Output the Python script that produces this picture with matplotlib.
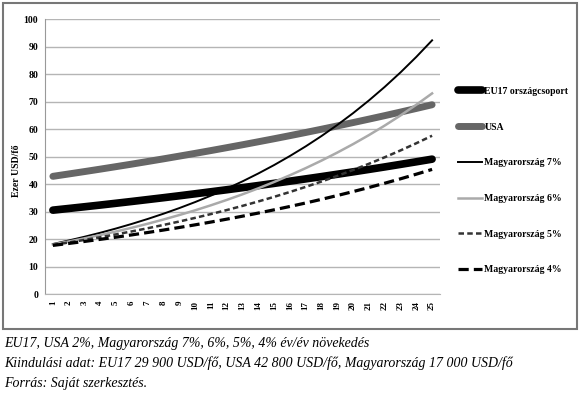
import matplotlib.pyplot as plt
from matplotlib.patches import Rectangle

years = list(range(1, 26))
eu17 = [30.50, 31.11, 31.73, 32.36, 33.01, 33.67, 34.35, 35.03, 35.73, 36.45, 37.18, 37.92, 38.68,
        39.45, 40.24, 41.05, 41.87, 42.70, 43.56, 44.43, 45.32, 46.22, 47.15, 48.09, 49.05]
usa = [42.80, 43.66, 44.53, 45.42, 46.33, 47.25, 48.20, 49.16, 50.15, 51.15, 52.17, 53.22, 54.28,
       55.37, 56.47, 57.60, 58.75, 59.93, 61.13, 62.35, 63.60, 64.87, 66.17, 67.49, 68.84]
hu7 = [18.19, 19.46, 20.83, 22.28, 23.84, 25.51, 27.30, 29.21, 31.25, 33.44, 35.78, 38.29, 40.97,
       43.84, 46.90, 50.19, 53.70, 57.46, 61.48, 65.78, 70.39, 75.32, 80.59, 86.23, 92.26]
hu6 = [18.02, 19.10, 20.25, 21.46, 22.75, 24.11, 25.56, 27.10, 28.72, 30.44, 32.27, 34.21, 36.26,
       38.44, 40.74, 43.19, 45.78, 48.52, 51.44, 54.52, 57.79, 61.26, 64.94, 68.83, 72.96]
hu5 = [17.85, 18.74, 19.68, 20.66, 21.70, 22.78, 23.92, 25.12, 26.37, 27.69, 29.08, 30.53, 32.06,
       33.66, 35.34, 37.11, 38.96, 40.91, 42.96, 45.11, 47.36, 49.73, 52.22, 54.83, 57.57]
hu4 = [17.68, 18.39, 19.12, 19.89, 20.68, 21.51, 22.37, 23.27, 24.20, 25.16, 26.17, 27.22, 28.31,
       29.44, 30.62, 31.84, 33.11, 34.44, 35.82, 37.25, 38.74, 40.29, 41.90, 43.58, 45.32]

plt.rcParams['font.family'] = ['Liberation Serif', 'DejaVu Serif']

fig = plt.figure(figsize=(5.8, 3.97), dpi=100)
ax = fig.add_axes([0.0776, 0.2594, 0.681, 0.6926])

ax.plot(years, eu17, color='black', lw=5.5, solid_capstyle='round', label='EU17 országcsoport')
ax.plot(years, usa, color='#666666', lw=5, solid_capstyle='round', label='USA')
ax.plot(years, hu7, color='black', lw=1.4, label='Magyarország 7%')
ax.plot(years, hu6, color='#aaaaaa', lw=1.8, label='Magyarország 6%')
ax.plot(years, hu5, color='#333333', lw=1.8, dashes=(2.2, 1.3), label='Magyarország 5%')
ax.plot(years, hu4, color='black', lw=2.3, dashes=(3.2, 1.6), label='Magyarország 4%')

ax.set_xlim(0.5, 25.5)
ax.set_ylim(0, 100)
ax.set_yticks(range(0, 101, 10))
ax.set_xticks(years)
ax.set_xticklabels([str(y) for y in years], rotation=90, fontsize=6.5, fontweight='bold')
for t in ax.get_yticklabels():
    t.set_fontsize(7)
    t.set_fontweight('bold')
ax.tick_params(length=0, pad=5)
ax.yaxis.grid(True, color='#b5b5b5', lw=1)
ax.set_axisbelow(True)
for s in ['top', 'right']:
    ax.spines[s].set_visible(False)
ax.spines['left'].set_color('#999999')
ax.spines['bottom'].set_color('#b5b5b5')
ax.set_ylabel('Ezer USD/fő', fontsize=7, fontweight='bold')
ax.yaxis.set_label_coords(-0.06, 0.45)

fig.legend(loc='center left', bbox_to_anchor=(0.775, 0.545), frameon=False,
           handlelength=2.4, labelspacing=2.75, handletextpad=0.3,
           prop={'weight': 'bold', 'size': 7})

fig.add_artist(Rectangle((3 / 580, 1 - 329 / 397), 574 / 580, 326 / 397,
                         transform=fig.transFigure, fill=False, edgecolor='#777777', lw=1.5))

fig.text(0.007, 1 - 343 / 397, 'EU17, USA 2%, Magyarország 7%, 6%, 5%, 4% év/év növekedés',
         fontsize=10, style='italic', va='center')
fig.text(0.007, 1 - 363 / 397, 'Kiindulási adat: EU17 29 900 USD/fő, USA 42 800 USD/fő, Magyarország 17 000 USD/fő',
         fontsize=10, style='italic', va='center')
fig.text(0.007, 1 - 383 / 397, 'Forrás: Saját szerkesztés.', fontsize=10, style='italic', va='center')

fig.savefig('out.png', dpi=100)
